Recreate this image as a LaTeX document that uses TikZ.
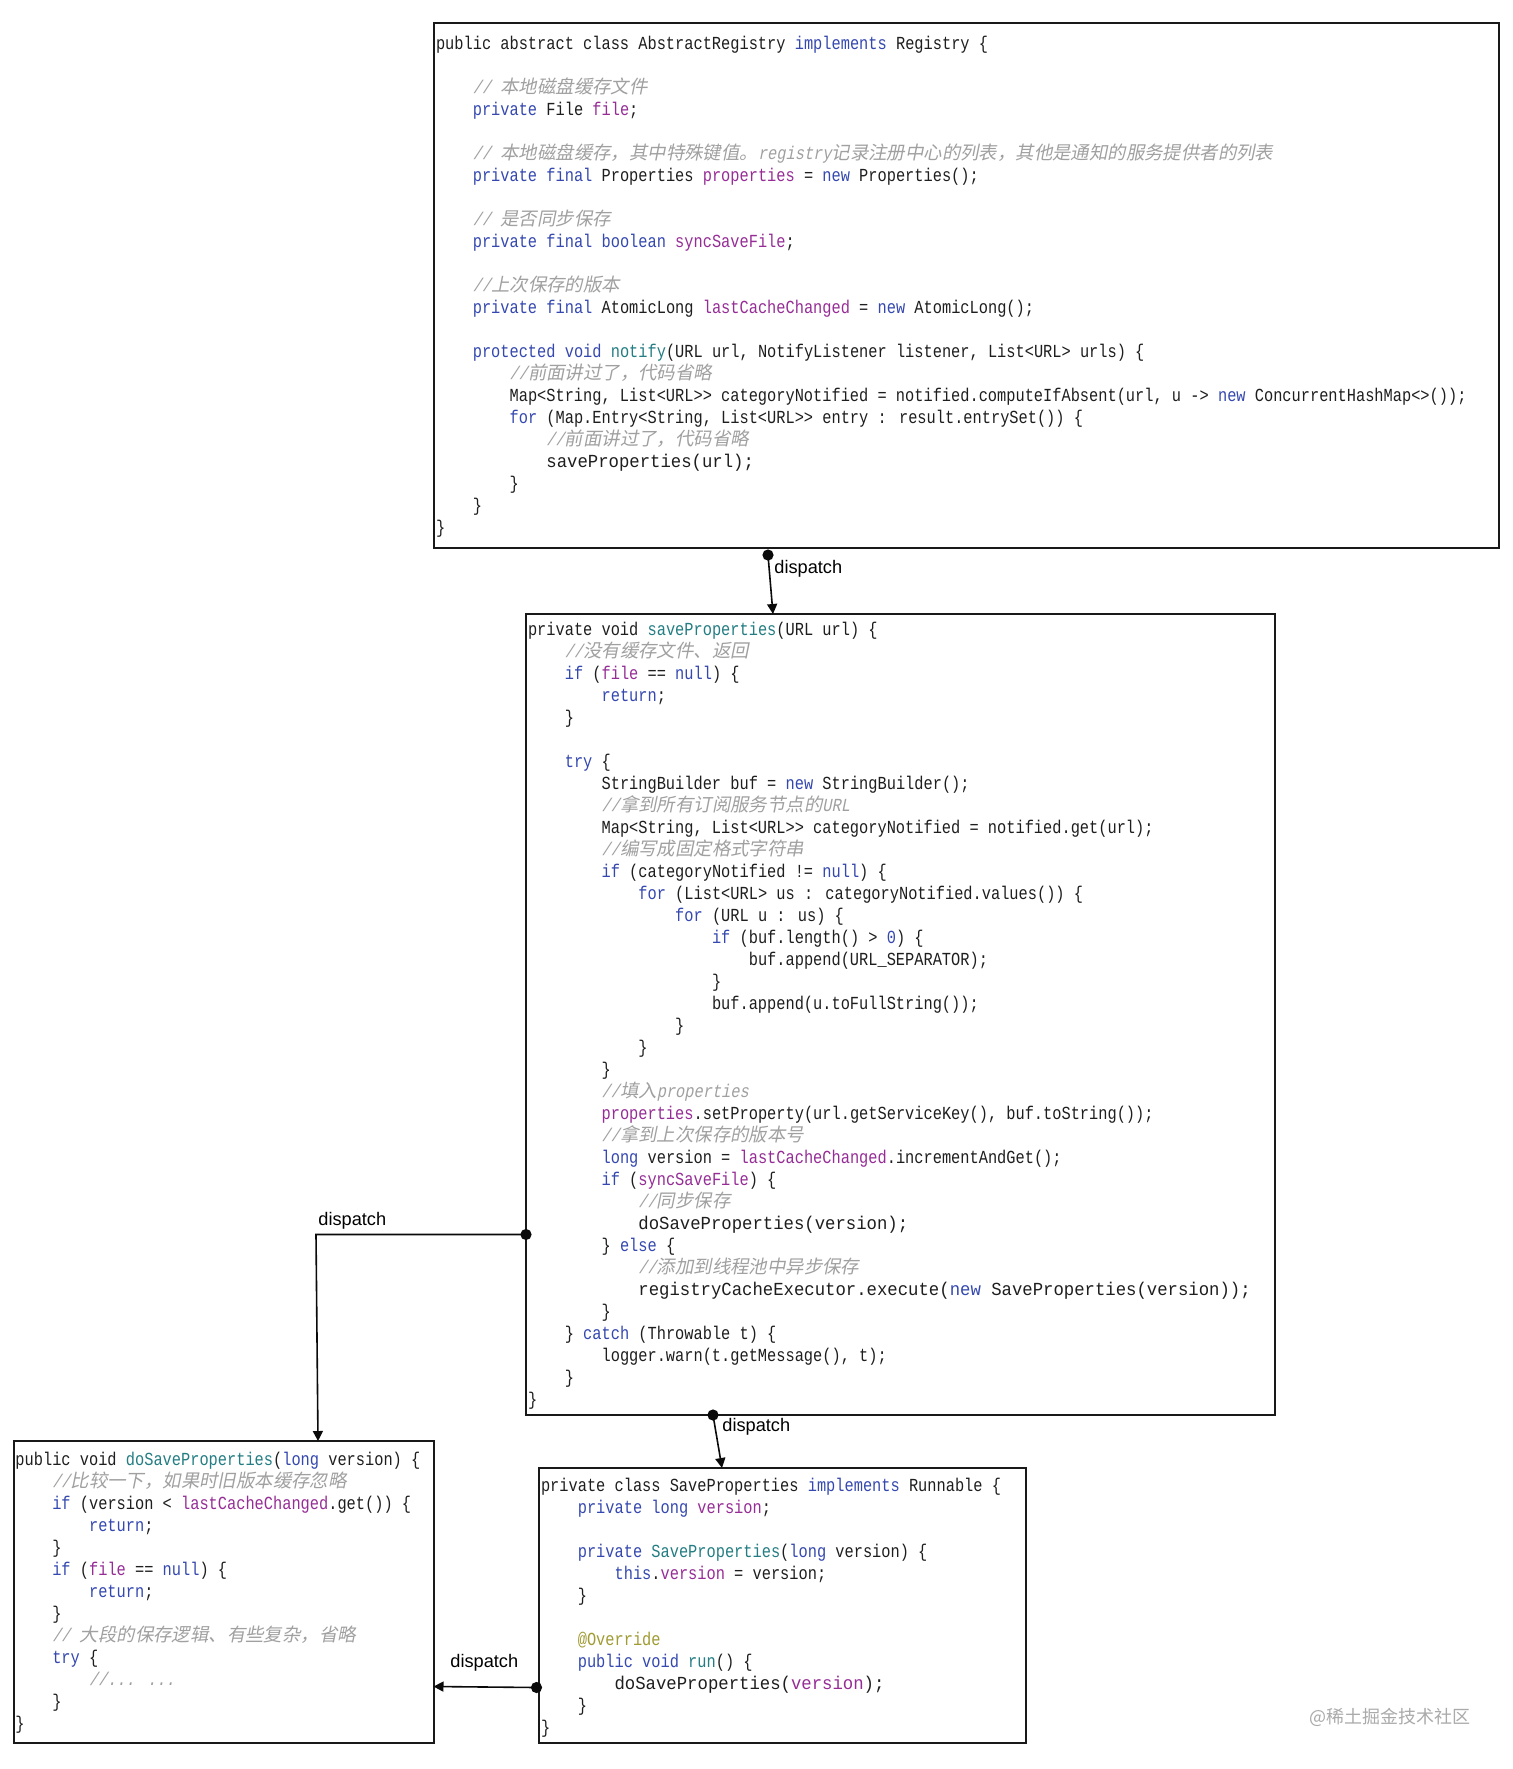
\documentclass[tikz,border=0pt]{standalone}
\usepackage{fontspec}
\usetikzlibrary{calc,arrows.meta}
\setsansfont{Liberation Sans}
\newfontfamily\zcf[FakeStretch=0.8333]{Liberation Mono}
\newfontfamily\zcfw[FakeStretch=0.94]{Liberation Mono}
\newfontfamily\zcfi[FakeStretch=0.8333,FakeSlant=0.2]{Liberation Mono}
\newfontfamily\zcjk{Noto Sans CJK SC}
\newfontfamily\zcjki[FakeSlant=0.2]{Noto Sans CJK SC}
\definecolor{kwc}{RGB}{52,72,175}
\definecolor{fdc}{RGB}{150,45,150}
\definecolor{mtc}{RGB}{35,125,130}
\definecolor{anc}{RGB}{160,155,50}
\definecolor{cmc}{RGB}{160,160,160}
\definecolor{txc}{RGB}{30,30,30}
\definecolor{boxc}{RGB}{25,25,25}
\definecolor{linec}{RGB}{10,10,10}
\definecolor{wmc}{RGB}{170,170,170}
\newcommand\zkw[1]{\textcolor{kwc}{#1}}
\newcommand\zfd[1]{\textcolor{fdc}{#1}}
\newcommand\zmt[1]{\textcolor{mtc}{#1}}
\newcommand\zan[1]{\textcolor{anc}{#1}}
\newcommand\zcm[1]{{\color{cmc}\zcfi #1}}
\newcommand\zcj[1]{{\zcjki #1}}
\newcommand\zin[1]{\hspace*{#1\dimexpr 18.4pt\relax}}
\newcommand\zfl{\rule{0pt}{8pt}}
\newcommand\zbl{\mbox{}}
\tikzset{
  codebox/.style={draw=boxc, line width=1pt, inner sep=0pt, outer sep=0pt, anchor=north west},
  codetext/.style={anchor=north west, inner sep=0pt, outer sep=0pt, align=left, text=txc,
    font=\fontsize{9.2pt}{11pt}\selectfont\zcf},
  conn/.style={draw=linec, line width=0.8pt},
  arr/.style={conn, -{Triangle[length=5pt,width=5pt]}},
  dotc/.style={fill=linec},
  lbl/.style={font=\sffamily\fontsize{9.1pt}{11pt}\selectfont, inner sep=0pt, anchor=west, text=black},
}
\begin{document}
\begin{tikzpicture}[x=0.5pt,y=-0.5pt]
\fill[white] (0,0) rectangle (1512,1769);
\useasboundingbox (0,0) rectangle (1512,1769);

% boxes
\node[codebox, minimum width=532.5pt, minimum height=262.5pt] (b1) at (434,23) {};
\node[codebox, minimum width=374.5pt, minimum height=400.5pt] (b2) at (526,614) {};
\node[codebox, minimum width=210pt, minimum height=151pt] (b3) at (13.5,1441) {};
\node[codebox, minimum width=243.5pt, minimum height=137.5pt] (b4) at (539,1468) {};

% box 1 text
\node[codetext] (c1) at (436,33.5) {\zfl public abstract class AbstractRegistry \zkw{implements} Registry \{\\
\zbl\\
\zin1\zcm{// \zcj{本地磁盘缓存文件}}\\
\zin1\zkw{private} File \zfd{file};\\
\zbl\\
\zin1\zcm{// \zcj{本地磁盘缓存，其中特殊键值。}registry\zcj{记录注册中心的列表，其他是通知的服务提供者的列表}}\\
\zin1\zkw{private} \zkw{final} Properties \zfd{properties} = \zkw{new} Properties();\\
\zbl\\
\zin1\zcm{// \zcj{是否同步保存}}\\
\zin1\zkw{private} \zkw{final} \zkw{boolean} \zfd{syncSaveFile};\\
\zbl\\
\zin1\zcm{//\zcj{上次保存的版本}}\\
\zin1\zkw{private} \zkw{final} AtomicLong \zfd{lastCacheChanged} = \zkw{new} AtomicLong();\\
\zbl\\
\zin1\zkw{protected} \zkw{void} \zmt{notify}(URL url, NotifyListener listener, List<URL> urls) \{\\
\zin2\zcm{//\zcj{前面讲过了，代码省略}}\\
\zin2Map<String, List<URL>{}> categoryNotified = notified.computeIfAbsent(url, u -> \zkw{new} ConcurrentHashMap<>());\\
\zin2\zkw{for} (Map.Entry<String, List<URL>{}> entry : result.entrySet()) \{\\
\zin3\zcm{//\zcj{前面讲过了，代码省略}}\\
\zin3{\zcfw saveProperties(url);}\\
\zin2\}\\
\zin1\}\\
\}};

% box 2 text
\node[codetext] (c2) at (528,619.5) {\zfl private void \zmt{saveProperties}(URL url) \{\\
\zin1\zcm{//\zcj{没有缓存文件、返回}}\\
\zin1\zkw{if} (\zfd{file} == \zkw{null}) \{\\
\zin2\zkw{return};\\
\zin1\}\\
\zbl\\
\zin1\zkw{try} \{\\
\zin2StringBuilder buf = \zkw{new} StringBuilder();\\
\zin2\zcm{//\zcj{拿到所有订阅服务节点的}URL}\\
\zin2Map<String, List<URL>{}> categoryNotified = notified.get(url);\\
\zin2\zcm{//\zcj{编写成固定格式字符串}}\\
\zin2\zkw{if} (categoryNotified != \zkw{null}) \{\\
\zin3\zkw{for} (List<URL> us : categoryNotified.values()) \{\\
\zin4\zkw{for} (URL u : us) \{\\
\zin5\zkw{if} (buf.length() > \zkw{0}) \{\\
\zin6buf.append(URL\_SEPARATOR);\\
\zin5\}\\
\zin5buf.append(u.toFullString());\\
\zin4\}\\
\zin3\}\\
\zin2\}\\
\zin2\zcm{//\zcj{填入}properties}\\
\zin2\zfd{properties}.setProperty(url.getServiceKey(), buf.toString());\\
\zin2\zcm{//\zcj{拿到上次保存的版本号}}\\
\zin2\zkw{long} version = \zfd{lastCacheChanged}.incrementAndGet();\\
\zin2\zkw{if} (\zfd{syncSaveFile}) \{\\
\zin3\zcm{//\zcj{同步保存}}\\
\zin3{\zcfw doSaveProperties(version);}\\
\zin2\} \zkw{else} \{\\
\zin3\zcm{//\zcj{添加到线程池中异步保存}}\\
\zin3{\zcfw registryCacheExecutor.execute(\zkw{new} SaveProperties(version));}\\
\zin2\}\\
\zin1\} \zkw{catch} (Throwable t) \{\\
\zin2logger.warn(t.getMessage(), t);\\
\zin1\}\\
\}};

% box 3 text
\node[codetext] (c3) at (15.5,1449.5) {\zfl public void \zmt{doSaveProperties}(\zkw{long} version) \{\\
\zin1\zcm{//\zcj{比较一下，如果时旧版本缓存忽略}}\\
\zin1\zkw{if} (version < \zfd{lastCacheChanged}.get()) \{\\
\zin2\zkw{return};\\
\zin1\}\\
\zin1\zkw{if} (\zfd{file} == \zkw{null}) \{\\
\zin2\zkw{return};\\
\zin1\}\\
\zin1\zcm{// \zcj{大段的保存逻辑、有些复杂，省略}}\\
\zin1\zkw{try} \{\\
\zin2\zcm{//... ...}\\
\zin1\}\\
\}};

% box 4 text
\node[codetext] (c4) at (541,1475.5) {\zfl private class SaveProperties \zkw{implements} Runnable \{\\
\zin1\zkw{private} \zkw{long} \zfd{version};\\
\zbl\\
\zin1\zkw{private} \zmt{SaveProperties}(\zkw{long} version) \{\\
\zin2\zkw{this}.\zfd{version} = version;\\
\zin1\}\\
\zbl\\
\zin1\zan{@Override}\\
\zin1\zkw{public} \zkw{void} \zmt{run}() \{\\
\zin2{\zcfw doSaveProperties(\zfd{version});}\\
\zin1\}\\
\}};

% connector anchor points
\coordinate (d1) at ($(b1.south west)+(334,7)$);
\coordinate (e1) at ($(b2.north west)+(247,0)$);
\coordinate (d2) at ($(b2.north west)+(0,620.5)$);
\coordinate (e2) at ($(b3.north west)+(304.5,0)$);
\coordinate (d3) at ($(b2.south west)+(187,0)$);
\coordinate (e3) at ($(b4.north west)+(183,0)$);
\coordinate (d4) at ($(b4.south west)+(-2.5,-55.5)$);
\coordinate (e4) at ($(b3.north east)+(0,245.5)$);

% connectors
\draw[arr] (d1) -- (e1);
\draw[arr] (d2) -- ($(d2 -| e2)+(-2,0)$) -- (e2);
\draw[arr] (d3) -- (e3);
\draw[arr] (d4) -- (e4);
\fill[dotc] (d1) circle (2.8pt);
\fill[dotc] (d2) circle (2.8pt);
\fill[dotc] (d3) circle (2.8pt);
\fill[dotc] (d4) circle (2.8pt);

% labels
\node[lbl] (l1) at (774,569) {dispatch};
\node[lbl] (l2) at (318,1221) {dispatch};
\node[lbl] (l3) at (722,1427) {dispatch};
\node[lbl] (l4) at (450,1663) {dispatch};

\node[font=\zcjk\fontsize{9pt}{11pt}\selectfont, text=wmc, anchor=west, inner sep=0pt] (wm) at (1309,1717) {@稀土掘金技术社区};
\end{tikzpicture}
\end{document}
